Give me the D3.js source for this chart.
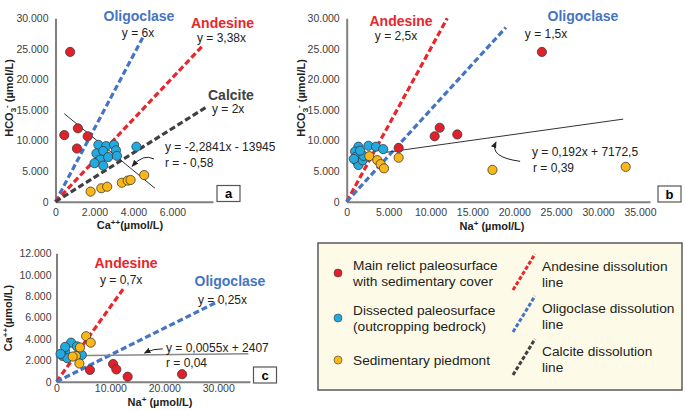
<!DOCTYPE html>
<html>
<head>
<meta charset="utf-8">
<script src="https://cdn.jsdelivr.net/npm/d3@7"></script>
<style>
body { margin: 0; background: #fff; }
svg { font-family: "Liberation Sans", Arial, sans-serif; }
.tick text { font-size: 10.5px; fill: #404040; }
.axis-title { font-size: 11px; font-weight: bold; fill: #222; }
.eq { font-size: 12px; fill: #222; }
.mineral { font-size: 14px; font-weight: bold; }
.legend-text { font-size: 13.7px; fill: #222; }
</style>
</head>
<body>
<div id="chart"></div>
<script>
// ---- panel a : HCO3- vs Ca++ (µmol/L), [Ca, HCO3]
const aRelict = [[750, 24500], [450, 10900], [1150, 12000], [1650, 10700], [1100, 8700]];
const aDissected = [[2200, 9300], [2600, 9100], [3000, 9300], [3100, 8400], [4150, 9000], [2100, 7900],
                    [2450, 8300], [2300, 6900], [2700, 7300], [3150, 7500], [2000, 6300], [2450, 5900]];
const aPiedmont = [[1800, 1650], [2350, 2200], [2650, 2450], [3400, 3100], [3700, 3450], [3850, 3550], [4550, 4350]];
const aTrend = [[450, 14400], [5100, 2200]];
const aDissolution = [
  { name: "Oligoclase", slope: 6, xEnd: 4470 },
  { name: "Andesine", slope: 3.38, xEnd: 7550 },
  { name: "Calcite", slope: 2, xEnd: 7700 }
];
const aXTicks = [0, 2000, 4000, 6000];

// ---- panel b : HCO3- vs Na+ (µmol/L), [Na, HCO3]
const bRelict = [[23300, 24500], [11100, 12100], [13200, 11000], [10500, 10700], [6200, 8800]];
const bDissected = [[1400, 9000], [2600, 9150], [3500, 9000], [4350, 8600], [1000, 8200], [1100, 7350],
                    [1250, 6550], [1400, 6000], [1900, 6750], [2000, 7500], [1600, 8350], [850, 7000]];
const bPiedmont = [[2700, 7450], [3650, 6800], [4050, 6150], [4450, 5450], [6200, 7200], [17400, 5200], [33300, 5700]];
const bTrend = { slope: 0.192, intercept: 7172.5, from: 4500, to: 33000 };
const bDissolution = [
  { name: "Andesine", slope: 2.5, xEnd: 12000 },
  { name: "Oligoclase", slope: 1.5, xEnd: 19000 }
];
const bXTicks = [0, 5000, 10000, 15000, 20000, 25000, 30000, 35000];

// ---- panel c : Ca++ vs Na+ (µmol/L), [Na, Ca]
const cRelict = [[6200, 1100], [10500, 1650], [11100, 1150], [13200, 470], [23300, 700]];
const cDissected = [[1600, 2800], [2700, 3650], [1150, 2400], [2000, 2200], [4700, 2500], [3800, 3300], [1600, 3250], [750, 2600]];
const cPiedmont = [[5500, 4250], [6350, 3650], [4350, 3200], [3600, 2400], [4250, 1700], [3000, 2350]];
const cTrend = { slope: 0.0055, intercept: 2407, from: 1500, to: 35600 };
const cDissolution = [
  { name: "Andesine", slope: 0.7, xEnd: 12500 },
  { name: "Oligoclase", slope: 0.25, xEnd: 30000 }
];
const cXTicks = [0, 10000, 20000, 30000];
const cYTicks = [0, 2000, 4000, 6000, 8000, 10000, 12000];
const hco3Ticks = [0, 5000, 10000, 15000, 20000, 25000, 30000];

const groupNames = ["Main relict paleosurface|with sedimentary cover", "Dissected paleosurface|(outcropping bedrock)", "Sedimentary piedmont"];
const groupColors = ["#e3202a", "#21a9e1", "#fbb617"];
const lineColors = { Andesine: "#e8262c", Oligoclase: "#4574c4", Calcite: "#404040" };
const lineNames = ["Andesine dissolution|line", "Oligoclase dissolution|line", "Calcite dissolution|line"];

const fmt = d3.formatLocale({ decimal: ",", thousands: ".", grouping: [3], currency: ["", ""] }).format(",d");

const svg = d3.select("#chart").append("svg").attr("width", 685).attr("height", 411);

svg.append("defs").append("marker")
    .attr("id", "arrow").attr("viewBox", "0 0 10 10").attr("refX", 8).attr("refY", 5)
    .attr("markerWidth", 7).attr("markerHeight", 7).attr("orient", "auto-start-reverse")
  .append("path").attr("d", "M0,1 L10,5 L0,9 Z").attr("fill", "#222");

function drawPanel(p) {
    const g = svg.append("g");
    const x = d3.scaleLinear().domain(p.xDomain).range(p.xRange);
    const y = d3.scaleLinear().domain(p.yDomain).range(p.yRange);

    const xAxis = g.append("g").attr("transform", `translate(0,${p.yRange[0]})`)
        .call(d3.axisBottom(x).tickValues(p.xTicks).tickSize(0).tickPadding(p.xPad).tickFormat(fmt));
    const yAxis = g.append("g").attr("transform", `translate(${p.xRange[0]},0)`)
        .call(d3.axisLeft(y).tickValues(p.yTicks).tickSize(0).tickPadding(p.yPad).tickFormat(fmt));
    [xAxis, yAxis].forEach(a => a.select(".domain").attr("stroke", "#808080").attr("stroke-width", 2));

    // dissolution lines
    p.dissolution.forEach(d => {
        g.append("line")
            .attr("x1", x(0)).attr("y1", y(0))
            .attr("x2", x(d.xEnd)).attr("y2", y(d.xEnd * d.slope))
            .attr("stroke", lineColors[d.name]).attr("stroke-width", 3.2)
            .attr("stroke-dasharray", "6,3");
    });

    // regression line
    g.append("line")
        .attr("x1", x(p.trend[0][0])).attr("y1", y(p.trend[0][1]))
        .attr("x2", x(p.trend[1][0])).attr("y2", y(p.trend[1][1]))
        .attr("stroke", p.trendColor).attr("stroke-width", p.trendWidth);

    // points
    p.groups.forEach((pts, i) => {
        g.append("g").selectAll("circle").data(pts).enter().append("circle")
            .attr("cx", d => x(d[0])).attr("cy", d => y(d[1])).attr("r", 4.6)
            .attr("fill", groupColors[i]).attr("stroke", "#3a3a3a").attr("stroke-width", 0.8);
    });

    // arrow to the regression line
    const a = p.arrow;
    g.append("path")
        .attr("d", `M${x(a[0][0])},${y(a[0][1])} Q${x(a[1][0])},${y(a[1][1])} ${x(a[2][0])},${y(a[2][1])}`)
        .attr("fill", "none").attr("stroke", "#222").attr("stroke-width", 1)
        .attr("marker-end", "url(#arrow)");

    // panel letter box
    g.append("rect").attr("x", p.box[0]).attr("y", p.box[1]).attr("width", 23).attr("height", 16)
        .attr("fill", "#fff").attr("stroke", "#555").attr("stroke-width", 1.2);
    g.append("text").attr("x", p.box[0] + 11.5).attr("y", p.box[1] + 12.5).attr("text-anchor", "middle")
        .style("font-size", "13px").style("font-weight", "bold").text(p.letter);

    return { g, x, y };
}

function label(g, xp, yp, txt, cls, color, anchor) {
    return g.append("text").attr("x", xp).attr("y", yp).attr("class", cls)
        .attr("text-anchor", anchor || "start").style("fill", color || null).text(txt);
}

function hco3Title(g, cx, cy) {
    const t = g.append("text").attr("class", "axis-title").attr("text-anchor", "middle")
        .attr("transform", `translate(${cx},${cy}) rotate(-90)`);
    t.append("tspan").text("HCO");
    t.append("tspan").attr("dy", 3).style("font-size", "8px").text("3");
    t.append("tspan").attr("dy", -7).style("font-size", "8px").text("-");
    t.append("tspan").attr("dy", 4).text(" (µmol/L)");
}

function ionTitle(g, cx, cy, ion, charge, rotate) {
    const t = g.append("text").attr("class", "axis-title").attr("text-anchor", "middle")
        .attr("transform", `translate(${cx},${cy})` + (rotate ? " rotate(-90)" : ""));
    t.append("tspan").text(ion);
    t.append("tspan").attr("dy", -4).style("font-size", "8px").text(charge);
    t.append("tspan").attr("dy", 4).text(ion === "Na" ? " (µmol/L)" : "(µmol/L)");
}

// ---- panel a
const pa = drawPanel({
    xDomain: [0, 8077], xRange: [55.5, 213], yDomain: [0, 30000], yRange: [201.7, 18.3],
    xTicks: aXTicks, yTicks: hco3Ticks, xPad: 7, yPad: 7,
    dissolution: aDissolution, groups: [aRelict, aDissected, aPiedmont],
    trend: aTrend, trendColor: "#333", trendWidth: 1,
    arrow: [[5050, 6990], [4500, 7900], [3950, 5850]],
    box: [217, 185.5], letter: "a"
});
hco3Title(pa.g, 13, 98);
ionTitle(pa.g, 130, 229, "Ca", "++", false);
label(pa.g, 139, 21, "Oligoclase", "mineral", lineColors.Oligoclase, "middle");
label(pa.g, 138, 37, "y = 6x", "eq", null, "middle");
label(pa.g, 191, 28, "Andesine", "mineral", lineColors.Andesine);
label(pa.g, 197, 42, "y = 3,38x", "eq");
label(pa.g, 208, 100, "Calcite", "mineral", lineColors.Calcite);
label(pa.g, 212, 113, "y = 2x", "eq");
label(pa.g, 165, 151, "y = -2,2841x - 13945", "eq");
label(pa.g, 165, 167, "r = - 0,58", "eq");

// ---- panel b
const pb = drawPanel({
    xDomain: [0, 36200], xRange: [346.7, 650], yDomain: [0, 30000], yRange: [201.7, 18.3],
    xTicks: bXTicks, yTicks: hco3Ticks, xPad: 7, yPad: 7,
    dissolution: bDissolution, groups: [bRelict, bDissected, bPiedmont],
    trend: [[bTrend.from, bTrend.intercept + bTrend.slope * bTrend.from], [bTrend.to, bTrend.intercept + bTrend.slope * bTrend.to]],
    trendColor: "#333", trendWidth: 1,
    arrow: [[20700, 6600], [17000, 7300], [17800, 9700]],
    box: [658, 186], letter: "b"
});
hco3Title(pb.g, 305, 98);
ionTitle(pb.g, 492, 230, "Na", "+", false);
label(pb.g, 401, 26, "Andesine", "mineral", lineColors.Andesine, "middle");
label(pb.g, 396, 40, "y = 2,5x", "eq", null, "middle");
label(pb.g, 583, 21, "Oligoclase", "mineral", lineColors.Oligoclase, "middle");
label(pb.g, 546, 38, "y = 1,5x", "eq", null, "middle");
label(pb.g, 532, 156, "y = 0,192x + 7172,5", "eq");
label(pb.g, 533, 172, "r = 0,39", "eq");

// ---- panel c
const pc = drawPanel({
    xDomain: [0, 35900], xRange: [56.5, 250], yDomain: [0, 12000], yRange: [381.7, 253.3],
    xTicks: cXTicks, yTicks: cYTicks, xPad: 3, yPad: 5,
    dissolution: cDissolution, groups: [cRelict, cDissected, cPiedmont],
    trend: [[cTrend.from, cTrend.intercept + cTrend.slope * cTrend.from], [cTrend.to, cTrend.intercept + cTrend.slope * cTrend.to]],
    trendColor: "#888", trendWidth: 1.5,
    arrow: [[19700, 3070], [18000, 3100], [16400, 2700]],
    box: [253.5, 367], letter: "c"
});
ionTitle(pc.g, 12, 318, "Ca", "++", true);
ionTitle(pc.g, 160, 406, "Na", "+", false);
label(pc.g, 126, 268, "Andesine", "mineral", lineColors.Andesine, "middle");
label(pc.g, 100, 284, "y = 0,7x", "eq");
label(pc.g, 230, 286, "Oligoclase", "mineral", lineColors.Oligoclase, "middle");
label(pc.g, 198, 304, "y = 0,25x", "eq");
label(pc.g, 166, 352, "y = 0,0055x + 2407", "eq");
label(pc.g, 166, 367, "r = 0,04", "eq");

// ---- legend
const lg = svg.append("g").attr("transform", "translate(318,243)");
lg.append("rect").attr("width", 364).attr("height", 147)
    .attr("fill", "#fdfbe7").attr("stroke", "#5a5a5a").attr("stroke-width", 1.5);
const rowsY = [30, 75, 117];
groupNames.forEach((name, i) => {
    lg.append("circle").attr("cx", 20).attr("cy", rowsY[i]).attr("r", 4)
        .attr("fill", groupColors[i]).attr("stroke", "#3a3a3a").attr("stroke-width", 0.6);
    const lines = name.split("|");
    lines.forEach((t, j) => {
        label(lg, 35, rowsY[i] - (lines.length - 1) * 8.3 + j * 16.6 + 5, t, "legend-text");
    });
});
const lineRowsY = [30, 72, 115];
lineNames.forEach((name, i) => {
    const key = name.split(" ")[0];
    lg.append("line").attr("x1", 195).attr("y1", lineRowsY[i] + 17).attr("x2", 217).attr("y2", lineRowsY[i] - 19)
        .attr("stroke", lineColors[key]).attr("stroke-width", 3).attr("stroke-dasharray", "4,2");
    name.split("|").forEach((t, j) => {
        label(lg, 224, lineRowsY[i] - 2.5 + j * 16, t, "legend-text");
    });
});
</script>
</body>
</html>
